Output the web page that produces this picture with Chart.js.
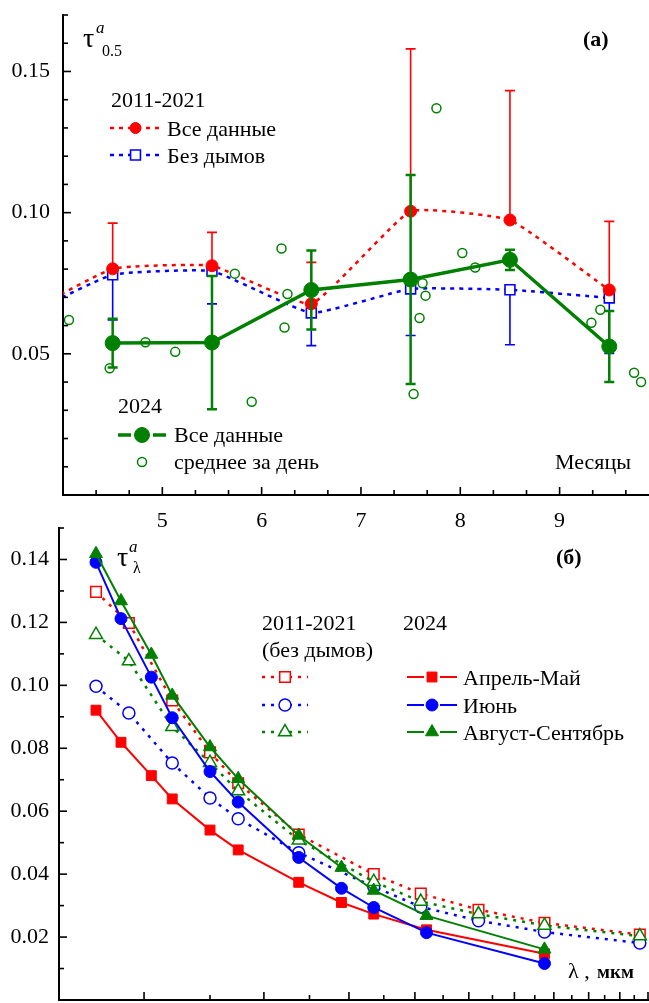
<!DOCTYPE html>
<html>
<head>
<meta charset="utf-8">
<script src="https://cdn.jsdelivr.net/npm/chart.js@4.4.1/dist/chart.umd.min.js"></script>
<style>
body { margin: 0; background: #fff; }
#wrap { position: relative; width: 649px; height: 1003px; }
canvas { position: absolute; left: 0; }
#c1 { top: 0; z-index: 2; }
#c2 { top: 510px; z-index: 1; }
</style>
</head>
<body>
<div id="wrap">
<canvas id="c1" width="649" height="535"></canvas>
<canvas id="c2" width="649" height="493"></canvas>
</div>
<script>
// panel (a): tau 0.5 by month
// first point (3.5) is outside the axis, only the curve runs through it
var monthsOld = [3.5, 4.5, 5.5, 6.5, 7.5, 8.5, 9.5];
var allData = [0.062, 0.0801, 0.0812, 0.0677, 0.1005, 0.0974, 0.0726];
var allErrUp = [0, 0.0162, 0.0118, 0.0147, 0.0575, 0.0458, 0.0243];
var noSmoke = [0.0616, 0.078, 0.0793, 0.0645, 0.073, 0.0727, 0.0698];
var noSmokeErrDown = [0, 0.016, 0.0116, 0.0116, 0.0165, 0.0195, 0.0197];

var months2024 = [4.5, 5.5, 6.5, 7.5, 8.5, 9.5];
var all2024 = [0.0538, 0.054, 0.0726, 0.0763, 0.0833, 0.0526];
var err2024 = [0.0086, 0.0236, 0.014, 0.037, 0.0036, 0.0126];

var dayX = [4.06, 4.47, 4.83, 5.13, 5.73, 5.90, 6.20, 6.26, 6.23, 7.53, 7.59, 7.62, 7.65, 7.76, 8.02, 8.15, 9.32, 9.41, 9.75, 9.82];
var dayY = [0.062, 0.0449, 0.0541, 0.0507, 0.0784, 0.033, 0.0873, 0.0712, 0.0593, 0.0358, 0.0627, 0.075, 0.0706, 0.137, 0.0857, 0.0806, 0.061, 0.0656, 0.0433, 0.040];

var monthTicks = [];
for (var k = 1; k < 18; k++) monthTicks.push(4 + k / 3);
var tauTicksA = [];
for (var k = 1; k <= 17; k++) tauTicksA.push(k / 100);

// panel (b): spectral tau
var wl2024 = [0.34, 0.37, 0.41, 0.44, 0.5, 0.55, 0.675, 0.78, 0.87, 1.04, 1.55];
var wlOld = [0.34, 0.38, 0.44, 0.5, 0.55, 0.675, 0.87, 1.02, 1.24, 1.55, 2.14];
var aprMay2024 = [0.0921, 0.0819, 0.0713, 0.0639, 0.054, 0.0477, 0.0374, 0.031, 0.0273, 0.0223, 0.0147];
var june2024 = [0.1391, 0.1212, 0.1026, 0.0897, 0.0726, 0.0629, 0.0453, 0.0355, 0.0294, 0.0214, 0.0116];
var augSep2024 = [0.1418, 0.1268, 0.1098, 0.0968, 0.0804, 0.0703, 0.0523, 0.0421, 0.0348, 0.0268, 0.0161];
var aprMayOld = [0.1297, 0.1198, 0.0952, 0.0787, 0.0689, 0.0526, 0.040, 0.0338, 0.0287, 0.0245, 0.0208];
var juneOld = [0.0997, 0.0912, 0.0753, 0.0642, 0.0576, 0.0468, 0.036, 0.0296, 0.0252, 0.0216, 0.0181];
var augSepOld = [0.1161, 0.1077, 0.0868, 0.0754, 0.0664, 0.0508, 0.0376, 0.0313, 0.0273, 0.0237, 0.0203];

var wlTicks = [];
for (var k = 3; k <= 22; k++) wlTicks.push(k / 10);
var tauTicksB = [];
for (var k = 1; k <= 15; k++) tauTicksB.push(k / 100);

var FONT = 'Liberation Serif';
var RED = '#ff0000', BLUE = '#0000ff', GREEN = '#008000';

function pts(xs, ys) {
  return xs.map(function (x, i) { return { x: x, y: ys[i] }; });
}

// inward ticks, long for the labelled ones
function tickPlugin(majorX, majorY) {
  return {
    id: 'inTicks',
    afterDraw: function (chart) {
      var ctx = chart.ctx, a = chart.chartArea;
      ctx.save();
      ctx.strokeStyle = '#000';
      ctx.lineWidth = 1.6;
      var sx = chart.scales.x, sy = chart.scales.y;
      sx.ticks.forEach(function (t) {
        var p = sx.getPixelForValue(t.value), len = majorX(t.value) ? 8 : 5;
        ctx.beginPath(); ctx.moveTo(p, a.bottom); ctx.lineTo(p, a.bottom - len); ctx.stroke();
      });
      sy.ticks.forEach(function (t) {
        var p = sy.getPixelForValue(t.value), len = majorY(t.value) ? 8 : 5;
        ctx.beginPath(); ctx.moveTo(a.left, p); ctx.lineTo(a.left + len, p); ctx.stroke();
      });
      ctx.restore();
    }
  };
}

function drawErr(chart, layer) {
  var ctx = chart.ctx, xs = chart.scales.x, ys = chart.scales.y;
  chart.data.datasets.forEach(function (ds) {
    if (ds.errLayer !== layer) return;
    ctx.save();
    ctx.strokeStyle = ds.borderColor;
    ctx.lineWidth = ds.errWidth;
    ds.data.forEach(function (p, i) {
      var px = xs.getPixelForValue(p.x), py = ys.getPixelForValue(p.y);
      if (px < chart.chartArea.left) return;
      if (ds.errUp && ds.errUp[i]) {
        var e = ys.getPixelForValue(p.y + ds.errUp[i]);
        ctx.beginPath(); ctx.moveTo(px, py); ctx.lineTo(px, e);
        ctx.moveTo(px - 5, e); ctx.lineTo(px + 5, e); ctx.stroke();
      }
      if (ds.errDown && ds.errDown[i]) {
        var e2 = ys.getPixelForValue(p.y - ds.errDown[i]);
        ctx.beginPath(); ctx.moveTo(px, py); ctx.lineTo(px, e2);
        ctx.moveTo(px - 5, e2); ctx.lineTo(px + 5, e2); ctx.stroke();
      }
    });
    ctx.restore();
  });
}

var errPlugin = {
  id: 'errBars',
  beforeDatasetsDraw: function (chart) { drawErr(chart, 'below'); },
  afterDatasetsDraw: function (chart) { drawErr(chart, 'above'); }
};

function sample(ctx, x1, x2, y, ds, r, gap) {
  var xm = (x1 + x2) / 2;
  ctx.save();
  ctx.strokeStyle = ds.borderColor;
  ctx.lineWidth = ds.borderWidth;
  ctx.setLineDash(ds.borderDash || []);
  ctx.beginPath();
  if (gap) {
    ctx.moveTo(x1, y); ctx.lineTo(xm - gap, y);
    ctx.moveTo(xm + gap, y); ctx.lineTo(x2, y);
  } else {
    ctx.moveTo(x1, y); ctx.lineTo(x2, y);
  }
  if (ds.showLine !== false) ctx.stroke();
  ctx.setLineDash([]);
  ctx.fillStyle = ds.pointBackgroundColor;
  ctx.strokeStyle = ds.pointBorderColor;
  ctx.lineWidth = ds.pointBorderWidth;
  Chart.helpers.drawPoint(ctx, { pointStyle: ds.pointStyle, radius: r, rotation: 0, borderWidth: ds.pointBorderWidth }, xm, y);
  ctx.restore();
}

function txt(ctx, s, x, y, font) {
  ctx.font = font || ('22px ' + FONT);
  ctx.fillStyle = '#000';
  ctx.textAlign = 'left';
  ctx.textBaseline = 'alphabetic';
  ctx.fillText(s, x, y);
}

function squeeze(s) {
  s.paddingTop = 0; s.paddingBottom = 0; s.paddingLeft = 0; s.paddingRight = 0;
}

// ---------- panel (a) ----------
var dsAll2024 = {
  data: pts(months2024, all2024), borderColor: GREEN, borderWidth: 3.5,
  pointStyle: 'circle', pointRadius: 7.5, pointBackgroundColor: GREEN, pointBorderColor: GREEN, pointBorderWidth: 1,
  errUp: err2024, errDown: err2024, errLayer: 'above', errWidth: 2.5
};
var dsDays = {
  data: pts(dayX, dayY), showLine: false, borderColor: GREEN,
  pointStyle: 'circle', pointRadius: 4.5, pointBackgroundColor: '#fff', pointBorderColor: GREEN, pointBorderWidth: 1.5
};
var dsAll = {
  data: pts(monthsOld, allData), borderColor: RED, borderWidth: 2.5, borderDash: [4, 5],
  tension: 0.12,
  pointStyle: 'circle', pointRadius: [0, 6, 6, 6, 6, 6, 6], pointBackgroundColor: RED, pointBorderColor: RED, pointBorderWidth: 1,
  errUp: allErrUp, errLayer: 'below', errWidth: 1.6
};
var dsNoSmoke = {
  data: pts(monthsOld, noSmoke), borderColor: BLUE, borderWidth: 2.5, borderDash: [4, 5],
  tension: 0.12,
  pointStyle: 'rect', pointRadius: [0, 7, 7, 7, 7, 7, 7], pointBackgroundColor: '#fff', pointBorderColor: BLUE, pointBorderWidth: 1.6,
  errDown: noSmokeErrDown, errLayer: 'below', errWidth: 1.6
};

var notesA = {
  id: 'notesA',
  afterDraw: function (chart) {
    var ctx = chart.ctx;
    txt(ctx, '\u03C4', 83, 47, '28px ' + FONT);
    txt(ctx, 'a', 96, 33, 'italic 17px ' + FONT);
    txt(ctx, '0.5', 102, 56, '16px ' + FONT);
    txt(ctx, '(a)', 583, 46, 'bold 22px ' + FONT);
    txt(ctx, '2011-2021', 111, 107);
    sample(ctx, 110, 161, 128, dsAll, 5.5, 0);
    txt(ctx, '\u0412\u0441\u0435 \u0434\u0430\u043D\u043D\u044B\u0435', 167, 136);
    sample(ctx, 110, 161, 155, dsNoSmoke, 7, 0);
    txt(ctx, '\u0411\u0435\u0437 \u0434\u044B\u043C\u043E\u0432', 167, 163);
    txt(ctx, '2024', 118, 413);
    sample(ctx, 118, 166, 435, dsAll2024, 7.5, 11);
    txt(ctx, '\u0412\u0441\u0435 \u0434\u0430\u043D\u043D\u044B\u0435', 174, 442);
    sample(ctx, 118, 166, 462, dsDays, 4.5, 0);
    txt(ctx, '\u0441\u0440\u0435\u0434\u043D\u0435\u0435 \u0437\u0430 \u0434\u0435\u043D\u044C', 174, 469);
    txt(ctx, '\u041C\u0435\u0441\u044F\u0446\u044B', 555, 469);
  }
};

new Chart(document.getElementById('c1'), {
  type: 'line',
  data: { datasets: [dsAll2024, dsDays, dsAll, dsNoSmoke] },
  options: {
    responsive: false, animation: false, devicePixelRatio: 1,
    layout: { autoPadding: false, padding: { top: 15, right: 0, left: 0, bottom: 0 } },
    plugins: { legend: { display: false }, tooltip: { enabled: false } },
    scales: {
      x: {
        type: 'linear', min: 4, max: 9.9,
        grid: { display: false, drawTicks: false },
        border: { display: true, width: 2, color: '#000' },
        afterBuildTicks: function (s) { s.ticks = monthTicks.map(function (v) { return { value: v }; }); },
        ticks: {
          autoSkip: false, maxRotation: 0, padding: 13, color: '#000', font: { family: FONT, size: 22 },
          callback: function (v) { return Math.abs(v - Math.round(v)) < 1e-6 && v > 4.5 ? String(Math.round(v)) : ''; }
        },
        afterFit: function (s) { s.height = 40; squeeze(s); }
      },
      y: {
        min: 0, max: 0.17,
        grid: { display: false, drawTicks: false },
        border: { display: true, width: 2, color: '#000' },
        afterBuildTicks: function (s) { s.ticks = tauTicksA.map(function (v) { return { value: v }; }); },
        ticks: {
          autoSkip: false, padding: 13, color: '#000', font: { family: FONT, size: 22 },
          callback: function (v) { return Math.round(v * 100) % 5 === 0 ? v.toFixed(2) : ''; }
        },
        afterFit: function (s) { s.width = 63; squeeze(s); }
      }
    }
  },
  plugins: [errPlugin, notesA, tickPlugin(
    function (v) { return Math.abs(v - Math.round(v)) < 1e-6; },
    function (v) { return Math.round(v * 100) % 5 === 0; }
  )]
});

// ---------- panel (b) ----------
function newSet(ys, color, style, r) {
  return {
    data: pts(wl2024, ys), borderColor: color, borderWidth: 2,
    pointStyle: style, pointRadius: r, pointBackgroundColor: color, pointBorderColor: color, pointBorderWidth: 1
  };
}
function oldSet(ys, color, style, r) {
  return {
    data: pts(wlOld, ys), borderColor: color, borderWidth: 2.5, borderDash: [3, 6],
    pointStyle: style, pointRadius: r, pointBackgroundColor: '#fff', pointBorderColor: color, pointBorderWidth: 1.5
  };
}
var dsNewApr = newSet(aprMay2024, RED, 'rect', 7);
var dsNewJun = newSet(june2024, BLUE, 'circle', 6);
var dsNewAug = newSet(augSep2024, GREEN, 'triangle', 7.5);
var dsOldApr = oldSet(aprMayOld, RED, 'rect', 7.5);
var dsOldJun = oldSet(juneOld, BLUE, 'circle', 6);
var dsOldAug = oldSet(augSepOld, GREEN, 'triangle', 7.5);

var notesB = {
  id: 'notesB',
  afterDraw: function (chart) {
    var ctx = chart.ctx, o = 510;
    txt(ctx, '\u03C4', 117, 566 - o, '28px ' + FONT);
    txt(ctx, 'a', 129, 552 - o, 'italic 17px ' + FONT);
    txt(ctx, '\u03BB', 133, 573 - o, '16px ' + FONT);
    txt(ctx, '(\u0431)', 556, 564 - o, 'bold 22px ' + FONT);
    txt(ctx, '2011-2021', 262, 630 - o);
    txt(ctx, '2024', 403, 630 - o);
    txt(ctx, '(\u0431\u0435\u0437 \u0434\u044B\u043C\u043E\u0432)', 262, 657 - o);
    sample(ctx, 262, 308, 677 - o, dsOldApr, 7.5, 0);
    sample(ctx, 262, 308, 705 - o, dsOldJun, 6, 0);
    sample(ctx, 262, 308, 732 - o, dsOldAug, 7.5, 0);
    sample(ctx, 407, 457, 677 - o, dsNewApr, 7, 8);
    sample(ctx, 407, 457, 705 - o, dsNewJun, 6, 8);
    sample(ctx, 407, 457, 732 - o, dsNewAug, 7.5, 8);
    txt(ctx, '\u0410\u043F\u0440\u0435\u043B\u044C-\u041C\u0430\u0439', 463, 685 - o);
    txt(ctx, '\u0418\u044E\u043D\u044C', 463, 713 - o);
    txt(ctx, '\u0410\u0432\u0433\u0443\u0441\u0442-\u0421\u0435\u043D\u0442\u044F\u0431\u0440\u044C', 463, 740 - o);
    txt(ctx, '\u03BB ,', 568, 978 - o);
    txt(ctx, '\u043C\u043A\u043C', 597, 978 - o, 'bold 19px ' + FONT);
  }
};

new Chart(document.getElementById('c2'), {
  type: 'line',
  data: { datasets: [dsNewAug, dsNewJun, dsNewApr, dsOldAug, dsOldJun, dsOldApr] },
  options: {
    responsive: false, animation: false, devicePixelRatio: 1,
    layout: { autoPadding: false, padding: { top: 18, right: 1, left: 0, bottom: 0 } },
    plugins: { legend: { display: false }, tooltip: { enabled: false } },
    scales: {
      x: {
        type: 'logarithmic', min: 0.3, max: 2.2,
        grid: { display: false, drawTicks: false },
        border: { display: true, width: 2, color: '#000' },
        afterBuildTicks: function (s) { s.ticks = wlTicks.map(function (v) { return { value: v }; }); },
        ticks: { display: false },
        afterFit: function (s) { s.height = 3; squeeze(s); }
      },
      y: {
        min: 0, max: 0.15,
        grid: { display: false, drawTicks: false },
        border: { display: true, width: 2, color: '#000' },
        afterBuildTicks: function (s) { s.ticks = tauTicksB.map(function (v) { return { value: v }; }); },
        ticks: {
          autoSkip: false, padding: 10, color: '#000', font: { family: FONT, size: 22 },
          callback: function (v) { return Math.round(v * 100) % 2 === 0 ? v.toFixed(2) : ''; }
        },
        afterFit: function (s) { s.width = 59; squeeze(s); }
      }
    }
  },
  plugins: [notesB, tickPlugin(
    function (v) { return Math.round(v * 10) % 2 === 0; },
    function (v) { return Math.round(v * 100) % 2 === 0; }
  )]
});
</script>
</body>
</html>
